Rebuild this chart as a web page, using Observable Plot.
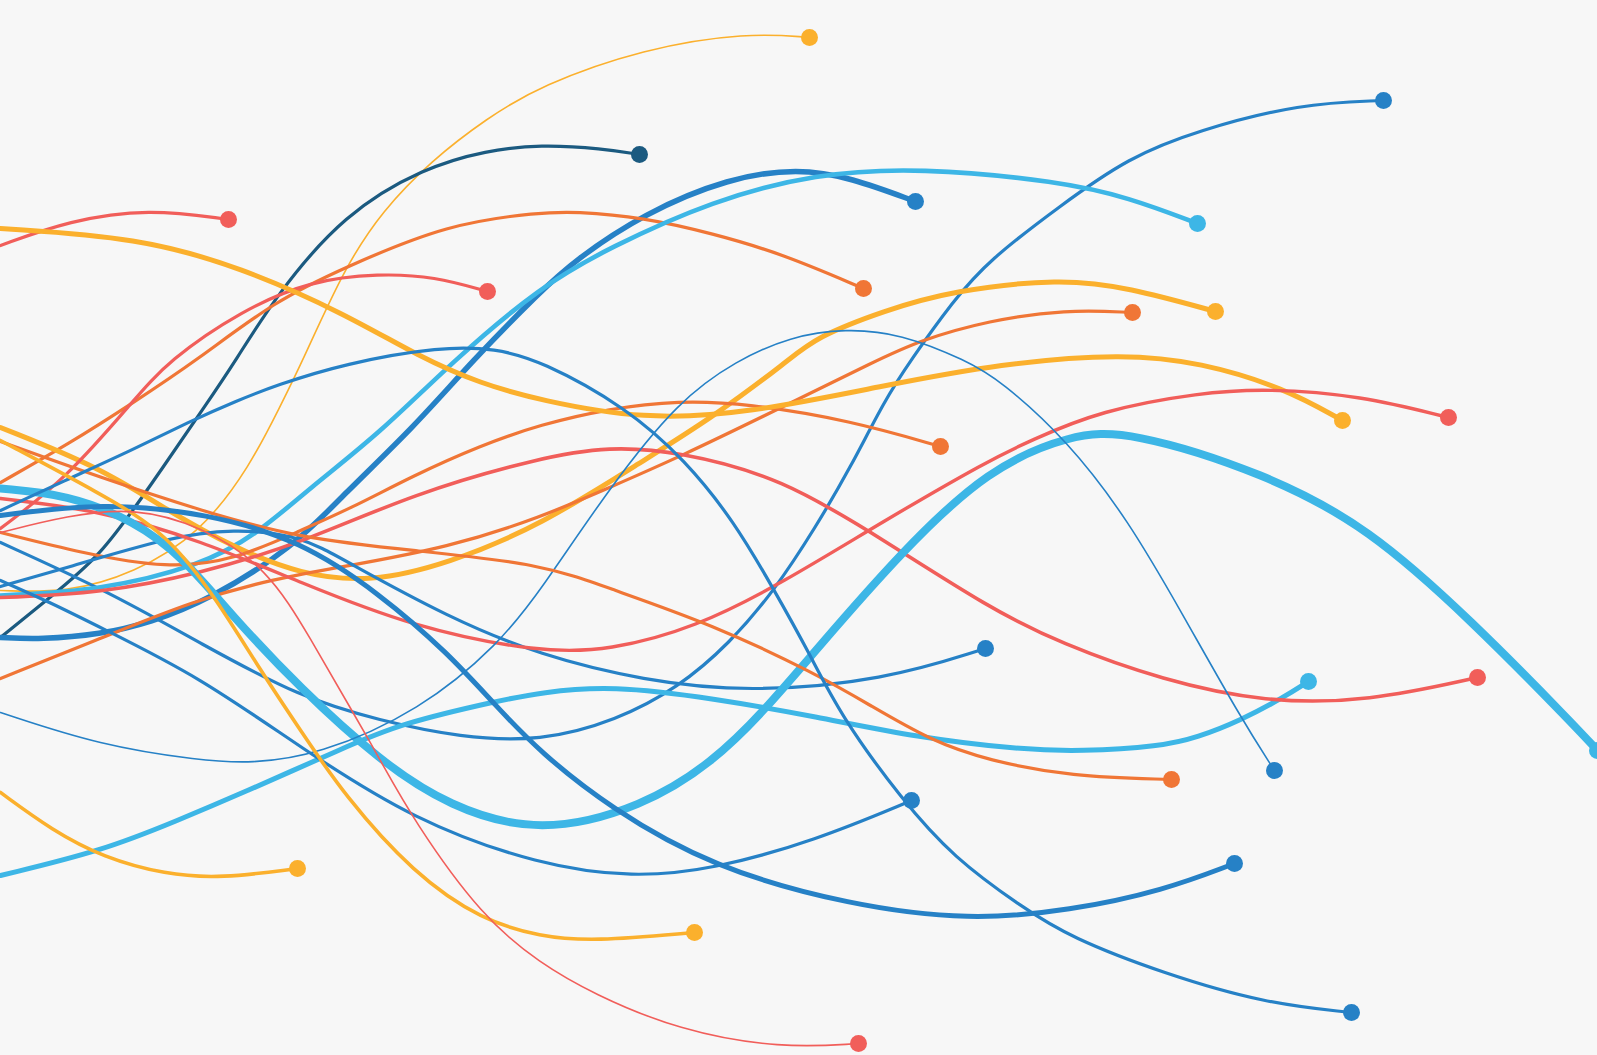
<!DOCTYPE html>
<html>
<head>
<meta charset="utf-8">
<script src="https://cdn.jsdelivr.net/npm/d3@7"></script>
<script src="https://cdn.jsdelivr.net/npm/@observablehq/plot@0.6"></script>
<style>
  html, body { margin: 0; padding: 0; background: #f7f7f7; overflow: hidden; }
  #chart svg { display: block; }
</style>
</head>
<body>
<div id="chart"></div>
<script>
// ---- data: each series is a list of [x, y] points ----
const s01 = [[0,590],[67,592],[133,573],[200,533],[250,465],[280,405],[300,365],[344,267],[382,210],[431,160],[486,118],[540,85],[643,48],[747,32],[809,37]];
const s02 = [[0,637],[48,598],[100,556],[150,485],[207,402],[234,362],[276,294],[344,213],[424,167],[486,150],[540,144],[602,148],[639,154]];
const s03 = [[0,637],[40,639],[100,634],[150,622],[207,600],[293,547],[344,493],[413,427],[472,360],[540,291],[574,260],[643,213],[729,177],[798,168],[850,177],[915,201]];
const s04 = [[0,482],[69,443],[133,402],[196,360],[275,300],[344,267],[448,223],[540,212],[574,211],[643,217],[712,233],[781,253],[863,288]];
const s05 = [[0,542],[110,592],[200,643],[300,697],[379,720],[460,737],[540,741],[616,720],[678,687],[729,643],[774,590],[815,527],[850,467],[884,400],[910,360],[953,300],[988,260],[1060,205],[1128,157],[1197,130],[1300,103],[1383,100]];
const s06 = [[0,595],[100,590],[200,565],[255,535],[310,487],[379,433],[453,360],[540,286],[609,247],[712,200],[815,173],[919,167],[1060,181],[1128,197],[1197,223]];
const s07 = [[0,427],[100,467],[167,510],[233,547],[300,574],[370,582],[448,563],[540,525],[643,460],[712,417],[788,360],[815,337],[884,310],[953,290],[1060,278],[1128,287],[1215,311]];
const s08 = [[0,678],[100,638],[193,600],[275,578],[344,566],[448,547],[540,517],[609,487],[678,457],[781,407],[876,360],[919,340],[988,320],[1065,309],[1132,312]];
const s09 = [[0,245],[69,220],[148,208],[228,219]];
const s10 = [[0,528],[67,477],[133,400],[168,360],[241,310],[310,280],[379,273],[434,276],[487,291]];
const s11 = [[0,532],[83,553],[167,568],[233,560],[300,530],[350,508],[413,475],[480,445],[540,424],[609,408],[678,400],[747,403],[850,420],[940,446]];
const s12 = [[0,586],[67,567],[167,537],[233,528],[300,535],[344,560],[448,617],[540,655],[643,680],[747,692],[884,680],[985,648]];
const s13 = [[0,228],[138,237],[241,267],[344,313],[420,357],[480,383],[540,400],[643,419],[747,413],[884,385],[1000,363],[1123,353],[1200,362],[1283,387],[1342,420]];
const s14 = [[0,498],[100,510],[200,540],[300,582],[413,627],[540,652],[609,650],[695,627],[781,583],[884,520],[988,460],[1030,440],[1100,410],[1200,392],[1267,388],[1360,395],[1448,417]];
const s15 = [[0,875],[103,850],[177,820],[241,793],[344,747],[400,723],[499,700],[540,692],[611,685],[713,698],[815,716],[917,737],[1019,749],[1080,751],[1160,746],[1197,737],[1240,720],[1283,697],[1308,681]];
const s16 = [[0,597],[100,593],[200,573],[300,543],[413,493],[540,457],[609,446],[678,451],[781,477],[884,540],[988,607],[1060,643],[1163,680],[1265,702],[1368,701],[1477,677]];
const s17 = [[0,488],[67,494],[133,520],[183,557],[233,617],[300,688],[379,760],[448,806],[540,834],[643,806],[712,762],[764,710],[815,650],[902,550],[988,468],[1070,434],[1128,430],[1265,473],[1368,527],[1471,620],[1574,725],[1597,750]];
const s18 = [[0,712],[100,745],[200,760],[250,763],[317,755],[420,710],[499,643],[540,590],[609,487],[678,400],[736,360],[790,336],[845,328],[900,333],[966,360],[1000,380],[1067,440],[1128,520],[1180,610],[1240,717],[1274,770]];
const s19 = [[0,441],[100,477],[200,510],[300,538],[413,550],[540,563],[609,588],[712,624],[815,673],[870,705],[930,740],[988,760],[1070,776],[1171,779]];
const s20 = [[0,515],[103,502],[207,513],[300,540],[379,593],[448,653],[495,705],[540,752],[609,807],[712,867],[850,905],[970,920],[1070,910],[1163,890],[1234,863]];
const s21 = [[0,510],[69,478],[133,449],[189,421],[237,400],[275,385],[344,363],[441,346],[495,348],[540,360],[626,407],[685,460],[733,520],[774,590],[809,653],[840,715],[902,800],[953,857],[1022,907],[1070,937],[1163,973],[1265,1003],[1351,1012]];
const s22 = [[0,580],[50,602],[100,627],[200,677],[300,747],[413,820],[540,865],[633,877],[712,869],[815,840],[911,800]];
const s23 = [[0,440],[100,493],[167,533],[217,600],[260,670],[300,730],[344,795],[413,873],[482,920],[540,936],[592,941],[694,932]];
const s24 = [[0,532],[67,515],[133,507],[200,525],[267,567],[310,638],[353,713],[379,758],[413,820],[482,917],[540,963],[592,993],[678,1030],[781,1048],[858,1043]];
const s25 = [[0,792],[52,830],[103,857],[165,874],[220,878],[297,868]];

const seriesData = [s01,s02,s03,s04,s05,s06,s07,s08,s09,s10,s11,s12,s13,s14,s15,s16,s17,s18,s19,s20,s21,s22,s23,s24,s25];

// ---- styles (kept apart from the data) ----
const Y = "#fbb02d", O = "#f07636", R = "#f15e5a", B = "#2681c6", L = "#3db6e6", D = "#1b5a80";
const seriesColor = [Y, D, B, O, B, L, Y, O, R, R, O, B, Y, R, L, R, L, B, O, B, B, B, Y, R, Y];
const seriesWidth = [1.6, 3.2, 5.5, 3.2, 3.2, 4.6, 5, 3.2, 3.2, 3.2, 3.2, 3.2, 5, 3.4, 5, 3.6, 8, 1.6, 3.2, 5, 3.2, 3.2, 3.6, 1.6, 3.6];
const W = 1597, H = 1055;

const marks = [];
seriesData.forEach((pts, i) => {
  const rows = pts.map(([x, y]) => ({x, y}));
  marks.push(Plot.line(rows, {x: "x", y: "y", stroke: seriesColor[i], strokeWidth: seriesWidth[i], curve: "basis", strokeLinecap: "round"}));
  marks.push(Plot.dot([rows[rows.length - 1]], {x: "x", y: "y", r: 8.5, fill: seriesColor[i], stroke: "none"}));
});

const chart = Plot.plot({
  width: W,
  height: H,
  margin: 0,
  style: {background: "#f7f7f7", overflow: "hidden"},
  x: {domain: [0, W], range: [0, W], axis: null},
  y: {domain: [0, H], range: [0, H], axis: null},
  marks
});
document.getElementById("chart").appendChild(chart);
</script>
</body>
</html>
